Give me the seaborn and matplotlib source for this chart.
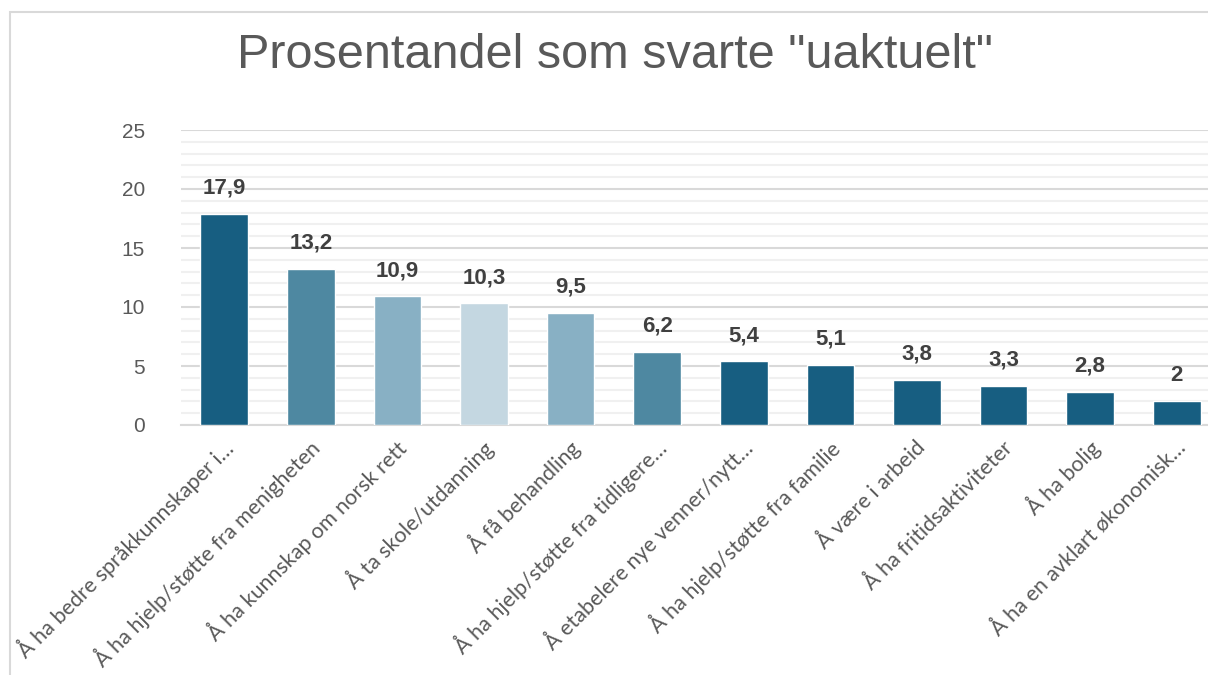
import pandas as pd
import matplotlib.pyplot as plt
from matplotlib.patches import Rectangle
from matplotlib.ticker import MultipleLocator
from matplotlib.transforms import ScaledTranslation
import seaborn as sns

sns.set_theme(style="white")
plt.rcParams['font.family'] = ['Liberation Sans', 'DejaVu Sans']

# Data
categories = [
    "Å ha bedre språkkunnskaper i…",
    "Å ha hjelp/støtte fra menigheten",
    "Å ha kunnskap om norsk rett",
    "Å ta skole/utdanning",
    "Å få behandling",
    "Å ha hjelp/støtte fra tidligere…",
    "Å etabelere nye venner/nytt…",
    "Å ha hjelp/støtte fra familie",
    "Å være i arbeid",
    "Å ha fritidsaktiviteter",
    "Å ha bolig",
    "Å ha en avklart økonomisk…",
]
values = [17.9, 13.2, 10.9, 10.3, 9.5, 6.2, 5.4, 5.1, 3.8, 3.3, 2.8, 2.0]
bar_colors = ["#175e81", "#4e88a1", "#88b0c4", "#c4d7e1", "#88b0c4", "#4e88a1",
              "#175e81", "#175e81", "#175e81", "#175e81", "#175e81", "#175e81"]

df = pd.DataFrame({"category": categories, "value": values})

fig = plt.figure(figsize=(12.08, 6.75), dpi=100)
ax = fig.add_axes([181 / 1208, 1 - 425 / 675, 1039 / 1208, 295 / 675])

sns.barplot(data=df, x="category", y="value", hue="category",
            palette=bar_colors, legend=False, width=0.55, ax=ax,
            saturation=1, zorder=3)

ax.set_ylim(0, 25)
ax.yaxis.set_major_locator(MultipleLocator(5))
ax.yaxis.set_minor_locator(MultipleLocator(1))
ax.grid(axis="y", which="major", color="#d9d9d9", lw=1.5, zorder=0)
ax.grid(axis="y", which="minor", color="#f0f0f0", lw=1.5, zorder=0)
ax.set_axisbelow(True)
for s in ["top", "right", "left"]:
    ax.spines[s].set_visible(False)
ax.spines["bottom"].set_color("#d9d9d9")
ax.spines["bottom"].set_linewidth(1.5)
ax.set_xlabel("")
ax.set_ylabel("")
ax.tick_params(axis="y", length=0, pad=26, labelsize=15, labelcolor="#595959")
ax.tick_params(axis="x", length=0, pad=4, labelsize=15.5, labelcolor="#595959")
# nudge rotated labels a little, like the original
shift = ScaledTranslation(4 / 72, -10 / 72, fig.dpi_scale_trans)
for lbl in ax.get_xticklabels():
    lbl.set_rotation(45)
    lbl.set_ha("right")
    lbl.set_va("center")
    lbl.set_rotation_mode("anchor")
    lbl.set_fontfamily(["Lato", "DejaVu Sans"])
    lbl.set_transform(lbl.get_transform() + shift)

# Data labels
labels = [f"{v:g}".replace(".", ",") for v in values]
for i, (v, t) in enumerate(zip(values, labels)):
    ax.annotate(t, (i, v), xytext=(0, 11), textcoords="offset points",
                ha="center", va="bottom", fontsize=16, fontweight="bold",
                color="#404040")

fig.text(0.509, 0.918, 'Prosentandel som svarte "uaktuelt"', ha="center",
         va="center", fontsize=35, color="#595959")

# Chart frame
fig.patches.append(Rectangle((10 / 1208, -0.1), 1.2, 1 - 12 / 675 + 0.1,
                             transform=fig.transFigure, fill=False,
                             edgecolor="#d9d9d9", lw=1.5))

fig.savefig("out.png", dpi=100)
